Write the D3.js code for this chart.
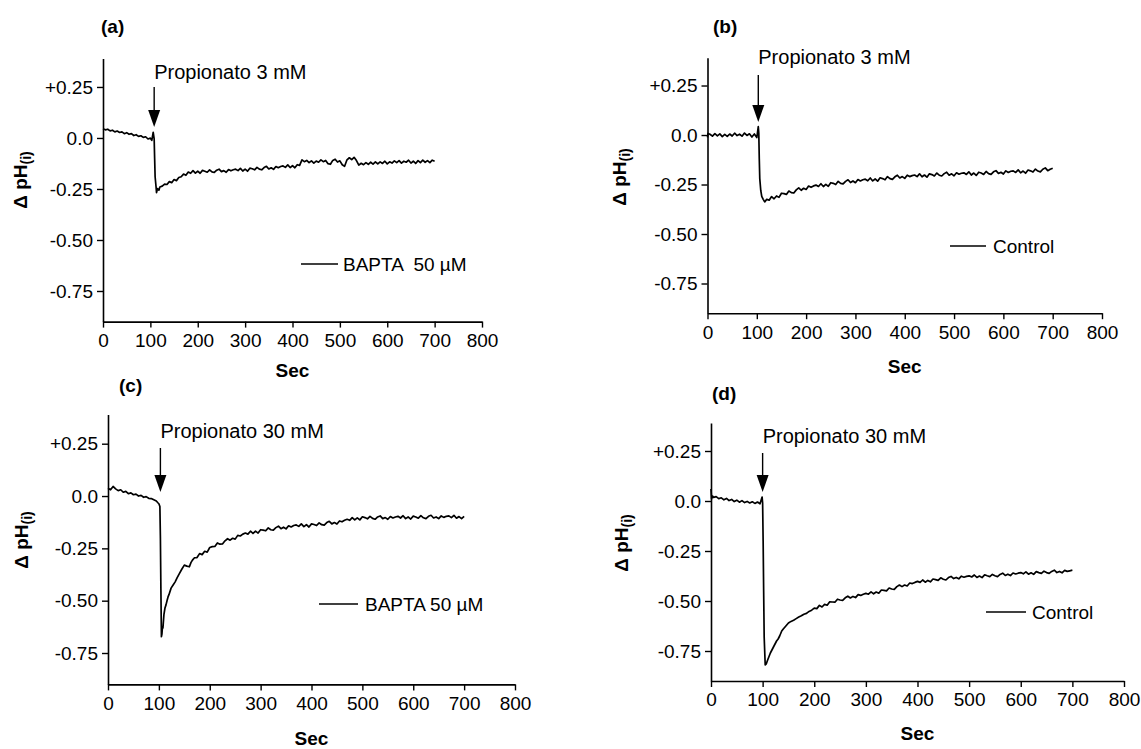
<!DOCTYPE html>
<html>
<head>
<meta charset="utf-8">
<script src="https://cdn.jsdelivr.net/npm/d3@7"></script>
<style>
body { margin: 0; background: #fff; }
svg text { font-family: "Liberation Sans", Arial, sans-serif; fill: #000; white-space: pre; }
</style>
</head>
<body>
<svg id="chart" width="1141" height="749"></svg>
<script>
// ---- data: [seconds, delta pH] ----
const traceA = [[0,.045],[5,.040],[10,.043],[15,.035],[20,.038],[25,.030],[30,.034],[35,.027],[40,.030],[45,.021],[50,.026],[55,.018],[60,.021],[65,.012],[70,.016],[75,.008],[80,.011],[85,.003],[90,.006],[95,-.005],[100,-.001],[103,-.012],[106,.028],[108,-.004],[109,-.10],[110,-.19],[112,-.24],[113,-.268],[115,-.248],[118,-.256],[120,-.240],[125,-.236],[130,-.226],[135,-.228],[140,-.214],[145,-.219],[150,-.204],[155,-.209],[160,-.194],[165,-.190],[170,-.177],[175,-.183],[180,-.167],[185,-.173],[190,-.160],[195,-.172],[200,-.163],[205,-.173],[210,-.159],[215,-.163],[220,-.168],[225,-.156],[230,-.166],[235,-.169],[240,-.158],[245,-.153],[250,-.165],[255,-.160],[260,-.168],[265,-.155],[270,-.161],[275,-.156],[280,-.153],[285,-.160],[290,-.149],[295,-.162],[300,-.153],[305,-.163],[310,-.148],[315,-.151],[320,-.156],[325,-.144],[330,-.153],[335,-.156],[340,-.145],[345,-.139],[350,-.152],[355,-.146],[360,-.154],[365,-.140],[370,-.146],[375,-.140],[380,-.137],[385,-.144],[390,-.132],[395,-.145],[400,-.136],[405,-.146],[410,-.131],[415,-.134],[420,-.107],[425,-.116],[430,-.110],[435,-.121],[440,-.112],[445,-.123],[450,-.113],[455,-.119],[460,-.107],[465,-.116],[470,-.110],[475,-.126],[480,-.129],[485,-.110],[490,-.104],[495,-.118],[500,-.112],[505,-.131],[510,-.139],[515,-.107],[520,-.097],[525,-.106],[530,-.095],[535,-.111],[540,-.133],[545,-.124],[550,-.131],[555,-.121],[560,-.129],[565,-.119],[570,-.128],[575,-.117],[580,-.127],[585,-.117],[590,-.125],[595,-.114],[600,-.127],[605,-.117],[610,-.123],[615,-.112],[620,-.121],[625,-.111],[630,-.123],[635,-.114],[640,-.119],[645,-.109],[650,-.123],[655,-.114],[660,-.125],[665,-.111],[670,-.121],[675,-.109],[680,-.119],[685,-.111],[690,-.121],[695,-.109],[700,-.114]];

const traceB = [[0,-.012],[1,.008],[5,.004],[10,-.006],[15,.007],[20,-.004],[25,.006],[30,-.008],[35,.003],[40,-.007],[45,.005],[50,-.005],[55,.009],[60,-.003],[65,.004],[70,-.006],[75,.010],[80,-.002],[85,.006],[90,-.010],[95,.005],[100,-.013],[103,.042],[104,.010],[105,-.12],[106,-.22],[108,-.28],[110,-.31],[113,-.325],[116,-.338],[120,-.325],[125,-.329],[130,-.311],[135,-.322],[140,-.308],[145,-.315],[150,-.294],[155,-.296],[160,-.300],[165,-.283],[170,-.291],[175,-.293],[180,-.277],[185,-.267],[190,-.279],[195,-.269],[200,-.275],[205,-.258],[210,-.264],[215,-.257],[220,-.253],[225,-.260],[230,-.246],[235,-.260],[240,-.249],[245,-.259],[250,-.241],[255,-.244],[260,-.250],[265,-.234],[270,-.244],[275,-.247],[280,-.234],[285,-.226],[290,-.240],[295,-.232],[300,-.241],[305,-.225],[310,-.232],[315,-.226],[320,-.223],[325,-.231],[330,-.217],[335,-.232],[340,-.222],[345,-.233],[350,-.216],[355,-.220],[360,-.226],[365,-.210],[370,-.220],[375,-.224],[380,-.211],[385,-.203],[390,-.217],[395,-.210],[400,-.219],[405,-.203],[410,-.210],[415,-.205],[420,-.202],[425,-.210],[430,-.196],[435,-.211],[440,-.202],[445,-.213],[450,-.196],[455,-.200],[460,-.207],[465,-.192],[470,-.203],[475,-.207],[480,-.195],[485,-.188],[490,-.203],[495,-.196],[500,-.206],[505,-.191],[510,-.198],[515,-.193],[520,-.191],[525,-.199],[530,-.186],[535,-.202],[540,-.192],[545,-.204],[550,-.188],[555,-.192],[560,-.199],[565,-.184],[570,-.195],[575,-.199],[580,-.186],[585,-.180],[590,-.194],[595,-.188],[600,-.197],[605,-.181],[610,-.189],[615,-.183],[620,-.181],[625,-.189],[630,-.176],[635,-.191],[640,-.182],[645,-.193],[650,-.177],[655,-.181],[660,-.187],[665,-.172],[670,-.182],[675,-.186],[680,-.173],[685,-.166],[690,-.180],[695,-.173],[700,-.168]];

const traceC = [[0,.037],[5,.030],[10,.046],[15,.034],[20,.026],[25,.030],[30,.018],[35,.022],[40,.011],[45,.015],[50,.006],[55,.009],[60,.000],[65,.003],[70,-.006],[75,-.003],[80,-.011],[85,-.012],[90,-.018],[95,-.024],[98,-.032],[100,-.037],[102,-.050],[103,-.20],[104,-.45],[105,-.672],[106,-.660],[107,-.625],[108,-.630],[110,-.565],[112,-.535],[114,-.520],[116,-.500],[118,-.482],[120,-.470],[124,-.440],[128,-.425],[132,-.410],[136,-.390],[140,-.372],[145,-.350],[150,-.330],[155,-.335],[160,-.338],[163,-.318],[166,-.306],[170,-.295],[175,-.294],[180,-.275],[185,-.280],[190,-.264],[195,-.268],[200,-.246],[205,-.242],[210,-.241],[215,-.224],[220,-.230],[225,-.229],[230,-.214],[235,-.204],[240,-.211],[245,-.202],[250,-.206],[255,-.188],[260,-.191],[265,-.182],[270,-.177],[275,-.182],[280,-.168],[285,-.179],[290,-.168],[295,-.177],[300,-.161],[305,-.163],[310,-.166],[315,-.152],[320,-.161],[325,-.163],[330,-.151],[335,-.144],[340,-.156],[345,-.149],[350,-.157],[355,-.142],[360,-.148],[365,-.141],[370,-.138],[375,-.145],[380,-.133],[385,-.146],[390,-.137],[395,-.148],[400,-.133],[405,-.136],[410,-.141],[415,-.128],[420,-.137],[425,-.139],[430,-.127],[435,-.121],[440,-.133],[445,-.127],[450,-.134],[455,-.119],[460,-.123],[465,-.116],[470,-.111],[475,-.116],[480,-.103],[485,-.114],[490,-.104],[495,-.114],[500,-.099],[505,-.103],[510,-.109],[515,-.097],[520,-.107],[525,-.111],[530,-.100],[535,-.095],[540,-.108],[545,-.103],[550,-.111],[555,-.098],[560,-.105],[565,-.100],[570,-.097],[575,-.105],[580,-.094],[585,-.108],[590,-.100],[595,-.110],[600,-.096],[605,-.100],[610,-.106],[615,-.094],[620,-.104],[625,-.108],[630,-.097],[635,-.092],[640,-.105],[645,-.100],[650,-.108],[655,-.095],[660,-.102],[665,-.097],[670,-.095],[675,-.103],[680,-.092],[685,-.106],[690,-.098],[695,-.108],[700,-.097]];

const traceD = [[0,.060],[1,.010],[3,.025],[5,.018],[10,.022],[15,.012],[20,.016],[25,.006],[30,.013],[35,.002],[40,.008],[45,-.003],[50,.004],[55,-.006],[60,.002],[65,-.008],[70,-.002],[75,-.010],[80,-.004],[85,-.012],[90,-.005],[95,-.014],[99,.020],[100,-.010],[101,-.20],[102,-.45],[103,-.68],[105,-.820],[107,-.815],[109,-.800],[112,-.780],[115,-.760],[118,-.745],[121,-.730],[124,-.715],[127,-.700],[130,-.690],[133,-.675],[137,-.650],[140,-.640],[145,-.625],[150,-.610],[155,-.602],[160,-.596],[165,-.588],[170,-.580],[175,-.574],[180,-.566],[185,-.562],[190,-.552],[195,-.546],[200,-.536],[205,-.538],[210,-.522],[215,-.530],[220,-.517],[225,-.521],[230,-.504],[235,-.505],[240,-.506],[245,-.491],[250,-.495],[255,-.497],[260,-.484],[265,-.476],[270,-.485],[275,-.477],[280,-.483],[285,-.468],[290,-.472],[295,-.466],[300,-.462],[305,-.466],[310,-.454],[315,-.464],[320,-.455],[325,-.461],[330,-.445],[335,-.447],[340,-.449],[345,-.435],[350,-.440],[355,-.442],[360,-.428],[365,-.420],[370,-.428],[375,-.420],[380,-.425],[385,-.410],[390,-.413],[395,-.407],[400,-.402],[405,-.407],[410,-.395],[415,-.406],[420,-.397],[425,-.404],[430,-.390],[435,-.393],[440,-.397],[445,-.384],[450,-.391],[455,-.395],[460,-.383],[465,-.377],[470,-.388],[475,-.382],[480,-.389],[485,-.376],[490,-.381],[495,-.377],[500,-.374],[505,-.380],[510,-.370],[515,-.382],[520,-.375],[525,-.383],[530,-.369],[535,-.374],[540,-.378],[545,-.367],[550,-.374],[555,-.378],[560,-.367],[565,-.361],[570,-.372],[575,-.366],[580,-.373],[585,-.360],[590,-.365],[595,-.361],[600,-.358],[605,-.364],[610,-.354],[615,-.366],[620,-.359],[625,-.367],[630,-.353],[635,-.358],[640,-.362],[645,-.351],[650,-.358],[655,-.362],[660,-.352],[665,-.346],[670,-.358],[675,-.352],[680,-.359],[685,-.347],[690,-.352],[695,-.349],[700,-.346]];

const xTicks = [0, 100, 200, 300, 400, 500, 600, 700, 800];
const yTicks = [0.25, 0, -0.25, -0.5, -0.75];
const panelLetters = ['(a)', '(b)', '(c)', '(d)'];
const doseLabels = ['Propionato 3 mM', 'Propionato 3 mM', 'Propionato 30 mM', 'Propionato 30 mM'];
const legendLabels = ['BAPTA  50 \u00b5M', 'Control', 'BAPTA 50 \u00b5M', 'Control'];
const additionSec = [108, 103, 103, 100];   // where the arrow points
const traces = [traceA, traceB, traceC, traceD];

// ---- layout (pixels) ----
const layout = [
    {left: 103,   right: 482,  top: 58.4,  bottom: 321.6, letter: [101, 33],  dose: 79,  arrow: [87, 127],  leg: {x1: 301, x2: 338, y: 264, tx: 343},  ylab: [20, 180],  sec: 377},
    {left: 707.5, right: 1102, top: 57.8,  bottom: 313.2, letter: [713, 33],  dose: 64,  arrow: [75, 122],  leg: {x1: 950, x2: 986, y: 246, tx: 993},  ylab: [619, 177], sec: 373},
    {left: 108,   right: 515,  top: 414.4, bottom: 684.4, letter: [119, 392], dose: 438, arrow: [448, 492], leg: {x1: 319, x2: 358, y: 604, tx: 365},  ylab: [21, 540],  sec: 745},
    {left: 711,   right: 1124, top: 423,   bottom: 681,   letter: [712, 400], dose: 443, arrow: [453, 492], leg: {x1: 986, x2: 1026, y: 612, tx: 1032}, ylab: [621, 543], sec: 740}
];

const svg = d3.select('#chart');
const yFmt = d => d > 0 ? '+' + d.toFixed(2) : (d === 0 ? '0.0' : d.toFixed(2));

layout.forEach((L, i) => {
    let x = d3.scaleLinear().domain([0, 800]).range([L.left, L.right]);
    let y = d3.scaleLinear().domain([-0.9, 0.39]).range([L.bottom, L.top]);
    let g = svg.append('g');

    // axes
    let xg = g.append('g')
        .attr('transform', 'translate(0,' + L.bottom + ')')
        .call(d3.axisBottom(x).tickValues(xTicks).tickSize(6).tickSizeOuter(0).tickPadding(6));
    let yg = g.append('g')
        .attr('transform', 'translate(' + L.left + ',0)')
        .call(d3.axisLeft(y).tickValues(yTicks).tickFormat(yFmt).tickSize(6).tickSizeOuter(0).tickPadding(4));
    [xg, yg].forEach(a => {
        a.select('.domain').attr('stroke', '#000').attr('stroke-width', 1.6);
        a.selectAll('.tick line').attr('stroke', '#000').attr('stroke-width', 1.4);
        a.selectAll('.tick text').attr('font-size', 19).attr('font-family', null);
    });

    // trace
    g.append('path')
        .datum(traces[i])
        .attr('fill', 'none')
        .attr('stroke', '#000')
        .attr('stroke-width', 1.7)
        .attr('stroke-linejoin', 'round')
        .attr('d', d3.line().x(d => x(d[0])).y(d => y(d[1])));

    // arrow marking the addition
    let ax = x(additionSec[i]);
    g.append('line')
        .attr('x1', ax).attr('x2', ax)
        .attr('y1', L.arrow[0]).attr('y2', L.arrow[1] - 16)
        .attr('stroke', '#000').attr('stroke-width', 1.4);
    g.append('path')
        .attr('d', `M${ax - 6},${L.arrow[1] - 17}L${ax + 6},${L.arrow[1] - 17}L${ax},${L.arrow[1]}Z`)
        .attr('fill', '#000');
    g.append('text')
        .attr('x', ax).attr('y', L.dose)
        .attr('font-size', 20)
        .text(doseLabels[i]);

    // legend
    g.append('line')
        .attr('x1', L.leg.x1).attr('x2', L.leg.x2)
        .attr('y1', L.leg.y).attr('y2', L.leg.y)
        .attr('stroke', '#000').attr('stroke-width', 1.3);
    g.append('text')
        .attr('x', L.leg.tx).attr('y', L.leg.y + 7)
        .attr('font-size', 19)
        .text(legendLabels[i]);

    // panel letter
    g.append('text')
        .attr('x', L.letter[0]).attr('y', L.letter[1])
        .attr('font-size', 19).attr('font-weight', 'bold')
        .text(panelLetters[i]);

    // axis titles
    g.append('text')
        .attr('x', (L.left + L.right) / 2).attr('y', L.sec)
        .attr('text-anchor', 'middle')
        .attr('font-size', 19).attr('font-weight', 'bold')
        .text('Sec');

    let yl = g.append('text')
        .attr('transform', 'translate(' + L.ylab[0] + ',' + L.ylab[1] + ') rotate(-90)')
        .attr('text-anchor', 'middle')
        .attr('dy', '0.35em')
        .attr('font-size', 19).attr('font-weight', 'bold');
    yl.append('tspan').text('\u0394 pH');
    yl.append('tspan').attr('font-size', 14).attr('dy', 4).text('(i)');
});
</script>
</body>
</html>
